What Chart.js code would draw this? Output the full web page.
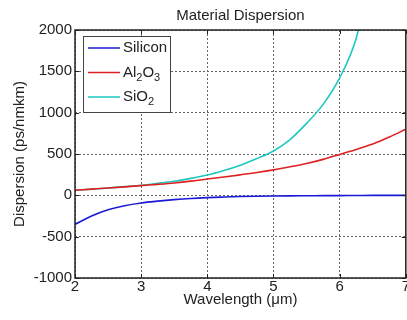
<!DOCTYPE html>
<html>
<head>
<meta charset="utf-8">
<script src="https://cdn.jsdelivr.net/npm/chart.js@4.4.1/dist/chart.umd.min.js"></script>
<style>
  html, body { margin: 0; padding: 0; background: #fff; overflow: hidden; }
  #wrap { width: 407px; height: 320px; overflow: hidden; }
</style>
</head>
<body>
<div id="wrap"><canvas id="myChart" width="410" height="320"></canvas></div>
<script>
// wavelength in um
const wavelength = [2, 2.25, 2.5, 2.75, 3, 3.25, 3.5, 3.75, 4, 4.25, 4.5, 4.75, 5,
  5.25, 5.5, 5.75, 6, 6.25, 6.5, 6.75, 7];

const silicon = [-350, -250, -175, -125, -92, -70, -52, -38, -28, -21, -15, -11, -8,
  -6, -5, -4, -3, -2, -1, -1, 0];

const al2o3 = [62, 75, 88, 102, 118, 133, 150, 172, 198, 222, 248, 276, 308,
  345, 385, 435, 495, 555, 620, 705, 800];

const sio2 = [62, 75, 88, 105, 122, 145, 170, 205, 245, 300, 365, 445, 537,
  675, 870, 1100, 1420, 1900, 2800, null, null];

const xTicks = [2, 3, 4, 5, 6, 7];
const yTicks = [-1000, -500, 0, 500, 1000, 1500, 2000];

const FONT = 'Arial, "Liberation Sans", sans-serif';

function pts(ys) {
  return wavelength.map((x, i) => ({ x: x, y: ys[i] }));
}

// box + inward ticks + legend, matlab style
const matlabBox = {
  id: 'matlabBox',
  afterDraw(chart) {
    const ctx = chart.ctx;
    const a = chart.chartArea;
    const xs = chart.scales.x, ys = chart.scales.y;
    ctx.save();
    ctx.strokeStyle = '#222';
    ctx.lineWidth = 1;
    ctx.beginPath();
    xTicks.forEach(v => {
      const px = Math.round(xs.getPixelForValue(v)) + 0.5;
      ctx.moveTo(px, a.bottom); ctx.lineTo(px, a.bottom - 4);
      ctx.moveTo(px, a.top); ctx.lineTo(px, a.top + 4);
    });
    yTicks.forEach(v => {
      const py = Math.round(ys.getPixelForValue(v)) + 0.5;
      ctx.moveTo(a.left, py); ctx.lineTo(a.left + 4, py);
      ctx.moveTo(a.right, py); ctx.lineTo(a.right - 4, py);
    });
    ctx.stroke();
    ctx.lineWidth = 1.5;
    ctx.strokeRect(a.left, a.top, a.right - a.left, a.bottom - a.top);

    // legend
    const lx = a.left + 8, ly = a.top + 6, lw = 87, lh = 76;
    ctx.fillStyle = '#fff';
    ctx.fillRect(lx, ly, lw, lh);
    ctx.strokeStyle = '#444';
    ctx.lineWidth = 1;
    ctx.strokeRect(lx + 0.5, ly + 0.5, lw, lh);

    const items = [
      { color: '#1a1ad8', parts: [['Silicon', 0]] },
      { color: '#e02020', parts: [['Al', 0], ['2', 1], ['O', 0], ['3', 1]] },
      { color: '#1ec8c0', parts: [['SiO', 0], ['2', 1]] }
    ];
    ctx.textBaseline = 'middle';
    ctx.textAlign = 'left';
    items.forEach((it, i) => {
      const y = ly + 12 + i * 24.5;
      ctx.strokeStyle = it.color;
      ctx.lineWidth = 1.5;
      ctx.beginPath();
      ctx.moveTo(lx + 5, y); ctx.lineTo(lx + 37, y);
      ctx.stroke();
      let tx = lx + 40;
      ctx.fillStyle = '#222';
      it.parts.forEach(([t, sub]) => {
        ctx.font = (sub ? '11px ' : '15px ') + FONT;
        ctx.fillText(t, tx, sub ? y + 5 : y);
        tx += ctx.measureText(t).width;
      });
    });
    ctx.restore();
  }
};

const config = {
  type: 'line',
  data: {
    datasets: [
      { label: 'Silicon', data: pts(silicon), borderColor: '#1a1ad8' },
      { label: 'Al2O3', data: pts(al2o3), borderColor: '#e02020' },
      { label: 'SiO2', data: pts(sio2), borderColor: '#1ec8c0' }
    ]
  },
  options: {
    responsive: false,
    animation: false,
    elements: {
      line: { borderWidth: 1.6, tension: 0.4, cubicInterpolationMode: 'monotone', fill: false },
      point: { radius: 0 }
    },
    layout: { padding: { left: 0, right: 0, top: 0, bottom: 0 } },
    scales: {
      x: {
        type: 'linear',
        min: 2,
        max: 7,
        afterBuildTicks: (s) => { s.ticks = xTicks.map(v => ({ value: v })); },
        afterFit: (s) => { s.height = 42; },
        ticks: { color: '#222', font: { family: FONT, size: 15 }, padding: 0, maxRotation: 0,
          callback: (v) => String(v) },
        grid: { color: '#666', drawTicks: false, tickLength: 0 },
        border: { display: false, dash: [2, 2] },
        title: { display: true, text: 'Wavelength (\u03bcm)', color: '#222',
          font: { family: FONT, size: 15 }, padding: { top: 0, bottom: 11 } }
      },
      y: {
        min: -1000,
        max: 2000,
        afterBuildTicks: (s) => { s.ticks = yTicks.map(v => ({ value: v })); },
        afterFit: (s) => { s.width = 75; },
        ticks: { color: '#222', font: { family: FONT, size: 15 }, padding: 3,
          callback: (v) => String(v) },
        grid: { color: '#666', drawTicks: false, tickLength: 0 },
        border: { display: false, dash: [2, 2] },
        title: { display: true, text: 'Dispersion (ps/nmkm)', color: '#222',
          font: { family: FONT, size: 15 }, padding: { top: 11, bottom: 0 } }
      }
    },
    plugins: {
      legend: { display: false },
      tooltip: { enabled: false },
      title: {
        display: true,
        fullSize: false,
        text: 'Material Dispersion',
        color: '#222',
        font: { family: FONT, size: 15, weight: 'normal' },
        padding: { top: 7, bottom: 5 }
      }
    }
  },
  plugins: [matlabBox]
};

const myChart = new Chart(document.getElementById('myChart'), config);
</script>
</body>
</html>
